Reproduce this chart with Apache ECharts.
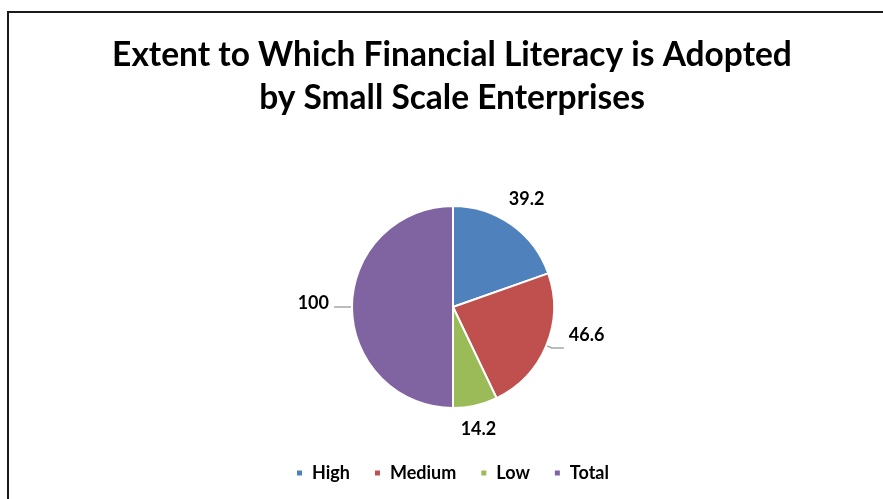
<!DOCTYPE html>
<html>
<head>
<meta charset="utf-8">
<script src="https://cdn.jsdelivr.net/npm/echarts@6/dist/echarts.min.js"></script>
<style>
html,body{margin:0;padding:0;background:#fff;}
#c{width:883px;height:499px;}
</style>
</head>
<body>
<div id="c"></div>
<script>
const categories = ['High', 'Medium', 'Low', 'Total'];
const values = [39.2, 46.6, 14.2, 100];
const colors = ['#4F81BD', '#C0504D', '#9BBB59', '#8064A2'];
const titleText = 'Extent to Which Financial Literacy is Adopted\nby Small Scale Enterprises';

// label nudges (style only)
const labelNudge = [
  { dx: -23, dy: -20, line: false },
  { dx: 0, dy: -13, line: true },
  { dx: -33, dy: 18, line: false },
  { dx: 0, dy: -4, line: true }
];

const chart = echarts.init(document.getElementById('c'));
const font = 'Lato';
chart.setOption({
  animation: false,
  color: colors,
  graphic: [{
    type: 'polyline',
    shape: { points: [[8, 499], [8, 12], [883, 12]] },
    style: { stroke: '#1a1a1a', lineWidth: 2, fill: null }
  }],
  title: {
    text: titleText,
    left: 447,
    textAlign: 'center',
    top: 29,
    textStyle: { fontFamily: font, fontSize: 33.5, fontWeight: 'bold', color: '#000', lineHeight: 43 }
  },
  legend: {
    left: 290,
    top: 459,
    icon: 'rect',
    itemWidth: 7,
    itemHeight: 7,
    itemGap: 23,
    data: categories,
    textStyle: { fontFamily: font, fontSize: 18, fontWeight: 'bold', color: '#000', padding: [0, 0, 0, 4] }
  },
  series: [{
    type: 'pie',
    center: [453, 307],
    radius: 101,
    startAngle: 90,
    clockwise: true,
    itemStyle: { borderColor: '#fff', borderWidth: 2 },
    label: {
      show: true,
      formatter: '{c}',
      fontFamily: font,
      fontSize: 18,
      fontWeight: 'bold',
      color: '#000'
    },
    labelLine: { show: true, length: 6, length2: 12, lineStyle: { color: '#a6a6a6', width: 1.5 } },
    labelLayout: function (p) {
      const n = labelNudge[p.dataIndex];
      return { dx: n.dx, dy: n.dy };
    },
    data: categories.map((c, i) => ({
      name: c,
      value: values[i],
      labelLine: { show: labelNudge[i].line }
    }))
  }]
});
</script>
</body>
</html>
